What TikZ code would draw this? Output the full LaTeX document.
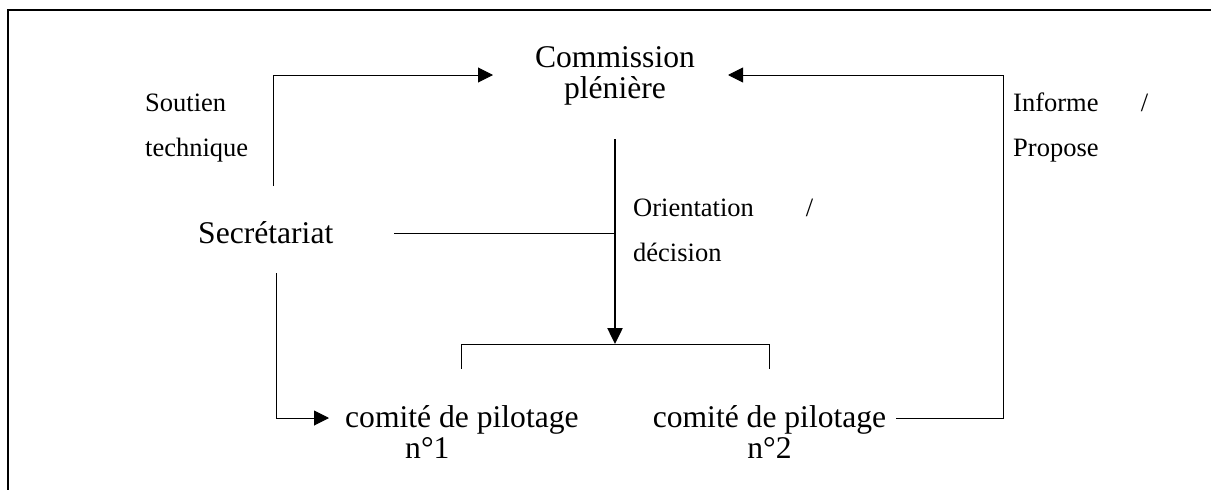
\documentclass[tikz,border=0pt]{standalone}
\usepackage{fontspec}
\setmainfont{Liberation Serif}
\usepackage{tikz}
\usetikzlibrary{arrows.meta}
\usetikzlibrary{positioning}

\begin{document}
\begin{tikzpicture}[
  x = 1pt, y = -1pt,
  > = {Triangle[length=15pt,width=15pt]},
  line/.style = {line width=1pt},
  frame/.style = {line width=1.3pt},
  big/.style = {inner sep=0pt,font=\fontsize{31.6}{31}\selectfont},
  lab/.style = {inner sep=0pt,font=\fontsize{26.5}{45}\selectfont,align=left}
  ]
  \useasboundingbox (0,0) rectangle (1211,490);
  \draw[frame] (8,490) -- (8,10) -- (1211,10);

  \node[big,align=center,anchor=base] (comm) at (615,98) {Commission\\plénière};
  \node[big,anchor=base west] (secr) at (198,243) {Secrétariat};
  \node[big,align=left,anchor=base west] (cp1) at (345,458) {comité de pilotage\\\hspace*{60pt}n°1};
  \node[big,align=center,anchor=base] (cp2) at (769.5,458) {comité de pilotage\\n°2};

  \node[lab,anchor=base west] (soutien) at (145,156) {Soutien\\technique};
  \node[lab,anchor=base west,text width=180pt] (orient) at (633,216) {Orientation\hfill/\\décision};
  \node[lab,anchor=base west,text width=135pt] (informe) at (1013,111) {Informe\hfill/\\Propose};

  \coordinate (s1) at (273,186);
  \coordinate (s2) at (276,273);
  \coordinate (s3) at (394,233);
  \coordinate (comm in) at (493,75);
  \coordinate (comm in2) at (728,75);
  \coordinate (comm out) at (615,139);
  \coordinate (fork) at (615,344);
  \coordinate (cp1 in) at (329,418);
  \coordinate (cp2 out) at (896,418);
  \coordinate (back) at (1003,418);

  \draw[line,->] (s1) |- (comm in);
  \draw[line,->] (s2) |- (cp1 in);
  \draw[line,->] (cp2 out) -- (back) |- (comm in2);
  \draw[line width=2.5pt,-{Triangle[length=16pt,width=15pt]}] (comm out) -- (fork);
  \draw[line] (s3) -- (s3 -| fork);
  \draw[line] (fork -| 461,0) -- ++(0,25);
  \draw[line] (fork -| 461,0) -- (fork -| 769,0) -- ++(0,25);
\end{tikzpicture}
\end{document}
